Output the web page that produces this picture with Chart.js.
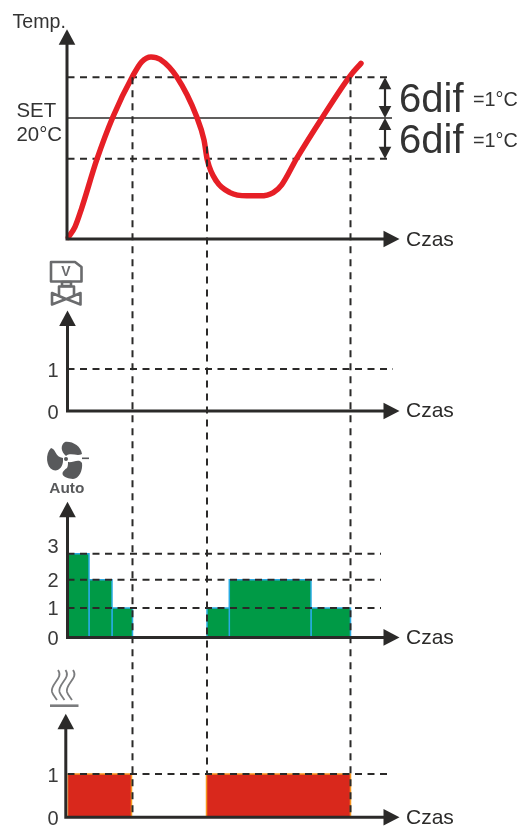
<!DOCTYPE html>
<html>
<head>
<meta charset="utf-8">
<style>
html,body{margin:0;padding:0;background:#fff}
canvas{display:block}
</style>
<script src="https://cdn.jsdelivr.net/npm/chart.js@4/dist/chart.umd.min.js"></script>
</head>
<body>
<canvas id="myChart" width="520" height="826"></canvas>
<script>
// temperature curve
const tempTime=[0.8,7.5,14.2,29.2,45.5,65.2,74.2,83.5,92.5,109.2,129.2,136.5,139.8,149.2,162.5,179.2,192.5,205.8,214.2,229.2,254.2,282.5,293.5]
const tempValue=[17.07,17.33,17.79,18.97,20.03,21.03,21.38,21.5,21.44,21.01,20.03,19.46,18.97,18.44,18.17,18.09,18.09,18.17,18.36,19.01,19.99,21.03,21.34]
const setValue=20
const difLevels=[21,19]

// switching moments, the dashed verticals (from temp value down to heater value)
const switchTimes=[65,139.5,283]
const switchFrom=[21,19.3,21]
const switchTo=[0,1,0]

// valve
const valveTicks=[0,1]
const valveLevels=[1]

// fan steps (levels as they sit in the picture, the rows are not quite even)
const fanStart=[0,21.5,44.5,139.5,161.8,243.5]
const fanEnd=[21.5,44.5,65,161.8,243.5,283]
const fanLevel=[3,2.07,1.05,1.05,2.07,1.05]
const fanRows=[1.05,2.07,3]
const fanTicks=[0,1.08,2.1,3.31]
const fanLabels=['0','1','2','3']

// heater
const heatStart=[0,139]
const heatEnd=[64,283]
const heatLevel=[1,1]
const heatTicks=[0,1]

const ink='#2b2a29'
const iconGrey='#6a6b6d'
const textFont='"Liberation Sans", Arial, sans-serif'

function hline(value,axis,end,dashed){
    return {
        data:[{x:0,y:value},{x:end,y:value}],
        yAxisID:axis,
        borderColor:ink,
        borderWidth:dashed?2:1.6,
        borderDash:dashed?[7,5.5]:[],
        pointRadius:0,
        tension:0
    }
}

function stepBox(start,end,level,axis,fillColor,edgeColor){
    return {
        data:[{x:start,y:0},{x:start,y:level},{x:end,y:level},{x:end,y:0}],
        yAxisID:axis,
        fill:'origin',
        backgroundColor:fillColor,
        borderColor:edgeColor,
        borderWidth:1.5,
        pointRadius:0,
        tension:0
    }
}

const datasets=[]
difLevels.forEach((v)=>datasets.push(hline(v,'yTemp',324.5,true)))
datasets.push(hline(setValue,'yTemp',324.5,false))
valveLevels.forEach((v)=>datasets.push(hline(v,'yValve',325.5,true)))
fanRows.forEach((v)=>datasets.push(hline(v,'yFan',313.5,true)))
heatTicks.slice(1).forEach((v)=>datasets.push(hline(v,'yHeat',325,true)))
datasets.unshift({
    data:tempTime.map((t,i)=>({x:t,y:tempValue[i]})),
    yAxisID:'yTemp',
    borderColor:'#e61f26',
    borderWidth:5.5,
    borderCapStyle:'round',
    pointRadius:0,
    cubicInterpolationMode:'monotone',
    clip:false
})
fanStart.forEach((s,i)=>datasets.push(stepBox(s,fanEnd[i],fanLevel[i],'yFan','#009a46','#29abe2')))
heatStart.forEach((s,i)=>datasets.push(stepBox(s,heatEnd[i],heatLevel[i],'yHeat','#d9281c','#f7941d')))

function yScale(min,max,weight,order,ticks,labels){
    return {
        type:'linear',
        position:'left',
        stack:'panels',
        stackWeight:weight,
        weight:order,
        min:min,
        max:max,
        grid:{display:false},
        border:{display:false},
        afterBuildTicks:(scale)=>{scale.ticks=ticks.map((v)=>({value:v}))},
        afterFit:(scale)=>{
            scale.width=67.5
            scale.paddingTop=0
            scale.paddingBottom=0
        },
        ticks:{
            display:ticks.length>0,
            autoSkip:false,
            padding:1,
            labelOffset:2.5,
            color:'#3a3a3a',
            font:{family:textFont,size:20},
            callback:(v)=>labels?labels[ticks.indexOf(v)]:String(v)
        }
    }
}

// x is in time units, one unit is one pixel from the y axis
const panels=[
    {axis:'yTemp',bottom:17.03,top:22.18,shift:-0.5},
    {axis:'yValve',bottom:0,top:2.39,shift:0},
    {axis:'yFan',bottom:0,top:4.86,shift:0},
    {axis:'yHeat',bottom:0,top:2.39,shift:-1.7}
]

function arrowHead(c,x,y,dx,dy,size,half){
    c.beginPath()
    c.moveTo(x,y)
    c.lineTo(x-dx*size-dy*half,y-dy*size-dx*half)
    c.lineTo(x-dx*size+dy*half,y-dy*size+dx*half)
    c.closePath()
    c.fill()
}

function drawValve(c){
    c.strokeStyle=iconGrey
    c.lineWidth=2.6
    c.lineJoin='round'
    c.beginPath()
    c.moveTo(51,262);c.lineTo(75,262);c.lineTo(81.5,267);c.lineTo(81.5,281.5);c.lineTo(51,281.5);c.closePath()
    c.stroke()
    c.strokeRect(62,282,9,4)
    c.beginPath()
    c.moveTo(59,295);c.lineTo(59,286.5);c.lineTo(74,286.5);c.lineTo(74,295)
    c.stroke()
    c.beginPath()
    c.moveTo(52,293);c.lineTo(66,299);c.lineTo(52,304.5);c.closePath()
    c.moveTo(80.5,293);c.lineTo(66.5,299);c.lineTo(80.5,304.5);c.closePath()
    c.stroke()
    c.fillStyle=iconGrey
    c.font='bold 14px '+textFont
    c.textAlign='center'
    c.fillText('V',66,276)
}

function drawFan(c){
    c.fillStyle='#58595b'
    c.beginPath()
    c.moveTo(66,456)
    c.bezierCurveTo(61,452,60,445,65,442)
    c.bezierCurveTo(72,441,81,446,82,454)
    c.bezierCurveTo(77,457,71,452,66,456)
    c.fill()
    c.beginPath()
    c.moveTo(63,461)
    c.bezierCurveTo(63,467,58,472,53,470)
    c.bezierCurveTo(46,467,45,454,51,448)
    c.bezierCurveTo(56,449,55,457,63,458)
    c.fill()
    c.beginPath()
    c.moveTo(68,462)
    c.bezierCurveTo(73,463,79,458,82,463)
    c.bezierCurveTo(83,470,79,479,73,479)
    c.bezierCurveTo(64,478,58,474,67,468)
    c.bezierCurveTo(68,466,68,464,68,462)
    c.fill()
    c.beginPath()
    c.arc(66,459,2,0,Math.PI*2)
    c.fill()
    c.fillRect(82,457.5,7,1.6)
    c.font='bold 15.4px '+textFont
    c.textAlign='center'
    c.fillText('Auto',66.8,492.7)
}

function drawHeat(c){
    c.strokeStyle='#7b7c7e'
    c.lineWidth=1.8
    ;[59,66.5,74].forEach((x)=>{
        c.beginPath()
        c.moveTo(x-1,670)
        c.bezierCurveTo(x+5,678,x-9,684,x-7,692)
        c.bezierCurveTo(x-6,695,x-4,697,x-2,700)
        c.stroke()
    })
    c.lineWidth=2.6
    c.beginPath()
    c.moveTo(50,705.7)
    c.lineTo(78.5,705.7)
    c.stroke()
}

const overlay={
    id:'overlay',
    afterDatasetsDraw(chart){
        const c=chart.ctx
        const x=chart.scales.x
        const yTemp=chart.scales.yTemp
        const yHeat=chart.scales.yHeat
        c.save()

        // dashed verticals run through all panels
        c.strokeStyle=ink
        c.lineWidth=2
        c.setLineDash([7,6])
        switchTimes.forEach((t,i)=>{
            c.beginPath()
            c.moveTo(x.getPixelForValue(t),yTemp.getPixelForValue(switchFrom[i]))
            c.lineTo(x.getPixelForValue(t),yHeat.getPixelForValue(switchTo[i]))
            c.stroke()
        })
        c.setLineDash([])

        // axes with arrow heads
        c.fillStyle=ink
        c.lineWidth=3
        panels.forEach((p)=>{
            const y=chart.scales[p.axis]
            const ax=x.getPixelForValue(0)+p.shift
            const bottom=y.getPixelForValue(p.bottom)
            const top=y.getPixelForValue(p.top)
            c.beginPath()
            c.moveTo(ax,top+10)
            c.lineTo(ax,bottom+1.5)
            c.moveTo(ax,bottom)
            c.lineTo(x.getPixelForValue(322),bottom)
            c.stroke()
            arrowHead(c,ax,top,0,-1,15.5,8.3)
            arrowHead(c,x.getPixelForValue(332),bottom,1,0,16,8.3)
            c.font='21px '+textFont
            c.textAlign='left'
            c.fillText('Czas',406,bottom+6.5)
        })

        // the two 6dif spans
        const spanX=x.getPixelForValue(317.5)
        const y21=yTemp.getPixelForValue(difLevels[0])
        const y20=yTemp.getPixelForValue(setValue)
        const y19=yTemp.getPixelForValue(difLevels[1])
        c.lineWidth=2.2
        ;[[y21,y20],[y20,y19]].forEach(([a,b])=>{
            c.beginPath()
            c.moveTo(spanX,a+6)
            c.lineTo(spanX,b-6)
            c.stroke()
            arrowHead(c,spanX,a,0,-1,12,6.3)
            arrowHead(c,spanX,b,0,1,12,6.3)
        })

        // texts
        c.fillStyle='#333333'
        c.textAlign='left'
        c.font='19.6px '+textFont
        c.fillText('Temp.',12.5,28)
        c.font='20.4px '+textFont
        c.fillText('SET',16.5,116.7)
        c.fillText('20°C',16.5,141)
        c.font='40px '+textFont
        c.fillText('6dif',399,111.7)
        c.fillText('6dif',399,152.7)
        c.font='19.8px '+textFont
        c.fillText('=1°C',473,106)
        c.fillText('=1°C',473,147)

        drawValve(c)
        drawFan(c)
        drawHeat(c)
        c.restore()
    }
}

const myChart=new Chart(document.getElementById('myChart'),{
    type:'line',
    data:{datasets:datasets},
    options:{
        responsive:false,
        animation:false,
        layout:{padding:0,autoPadding:false},
        plugins:{legend:{display:false},tooltip:{enabled:false}},
        scales:{
            x:{type:'linear',min:0,max:452.5,display:false},
            yTemp:yScale(16.27,22.896,270,4,[],null),
            yValve:yScale(-1.405,3.357,200,3,valveTicks,null),
            yFan:yScale(-1.168,6,200,2,fanTicks,fanLabels),
            yHeat:yScale(-0.201,3.402,156,1,heatTicks,null)
        }
    },
    plugins:[overlay]
})
</script>
</body>
</html>
